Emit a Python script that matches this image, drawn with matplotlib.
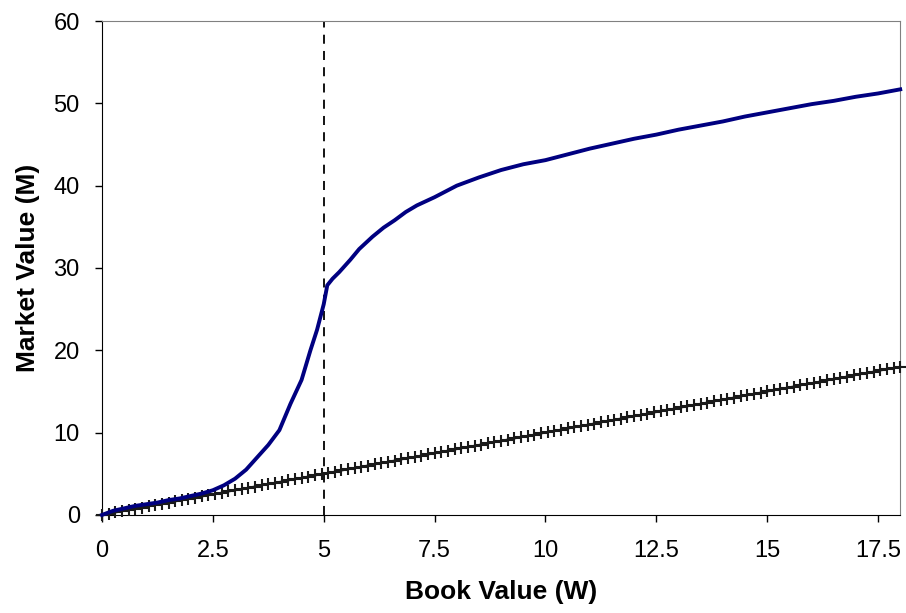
import matplotlib.pyplot as plt

# Market value curve (M) vs book value (W)
blue_x = [0, 0.25, 0.5, 0.75, 1, 1.25, 1.5, 1.75, 2, 2.25, 2.5, 2.75, 3, 3.25,
          3.5, 3.75, 4, 4.25, 4.5, 4.7, 4.85, 5.0, 5.08, 5.2, 5.35, 5.6, 5.8,
          6.1, 6.35, 6.6, 6.85, 7.1, 7.5, 8, 8.5, 9, 9.5, 10, 10.5, 11, 11.5,
          12, 12.5, 13, 13.5, 14, 14.5, 15, 15.5, 16, 16.5, 17, 17.5, 18]
blue_y = [0, 0.5, 0.8, 1.1, 1.3, 1.5, 1.8, 2.0, 2.3, 2.6, 3.0, 3.6, 4.4, 5.5,
          7.0, 8.5, 10.3, 13.5, 16.4, 20.0, 22.5, 25.6, 27.9, 28.7, 29.5, 31.0,
          32.3, 33.8, 34.9, 35.8, 36.8, 37.6, 38.6, 40.0, 41.0, 41.9, 42.6,
          43.1, 43.8, 44.5, 45.1, 45.7, 46.2, 46.8, 47.3, 47.8, 48.4, 48.9,
          49.4, 49.9, 50.3, 50.8, 51.2, 51.7]

# 45-degree line M = W, one marker every 0.15
line_x = [0.0, 0.15, 0.3, 0.45, 0.6, 0.75, 0.9, 1.05, 1.2, 1.35, 1.5, 1.65,
          1.8, 1.95, 2.1, 2.25, 2.4, 2.55, 2.7, 2.85, 3.0, 3.15, 3.3, 3.45,
          3.6, 3.75, 3.9, 4.05, 4.2, 4.35, 4.5, 4.65, 4.8, 4.95, 5.1, 5.25,
          5.4, 5.55, 5.7, 5.85, 6.0, 6.15, 6.3, 6.45, 6.6, 6.75, 6.9, 7.05,
          7.2, 7.35, 7.5, 7.65, 7.8, 7.95, 8.1, 8.25, 8.4, 8.55, 8.7, 8.85,
          9.0, 9.15, 9.3, 9.45, 9.6, 9.75, 9.9, 10.05, 10.2, 10.35, 10.5,
          10.65, 10.8, 10.95, 11.1, 11.25, 11.4, 11.55, 11.7, 11.85, 12.0,
          12.15, 12.3, 12.45, 12.6, 12.75, 12.9, 13.05, 13.2, 13.35, 13.5,
          13.65, 13.8, 13.95, 14.1, 14.25, 14.4, 14.55, 14.7, 14.85, 15.0,
          15.15, 15.3, 15.45, 15.6, 15.75, 15.9, 16.05, 16.2, 16.35, 16.5,
          16.65, 16.8, 16.95, 17.1, 17.25, 17.4, 17.55, 17.7, 17.85, 18.0]
line_y = list(line_x)

cutoff = 5
xticks = [0, 2.5, 5, 7.5, 10, 12.5, 15, 17.5]
xtick_labels = ["0", "2.5", "5", "7.5", "10", "12.5", "15", "17.5"]
yticks = [0, 10, 20, 30, 40, 50, 60]

plt.rcParams['font.family'] = ['Liberation Sans', 'DejaVu Sans']

fig = plt.figure(figsize=(9.06, 6.13), dpi=100)
ax = fig.add_axes([0.1126, 0.16, 0.881, 0.8057])

ax.plot(line_x, line_y, '-', color='#1a1a1a', lw=1.5, marker='+',
        markersize=8, markeredgewidth=1.5, clip_on=False, zorder=3)
ax.plot(blue_x, blue_y, '-', color='#000080', lw=2.8, clip_on=False, zorder=4)
ax.axvline(cutoff, color='black', lw=1.3, ls=(0, (5, 4)), zorder=2)

ax.set_xlim(0, 18)
ax.set_ylim(0, 60)
ax.set_xticks(xticks)
ax.set_xticklabels(xtick_labels)
ax.set_yticks(yticks)
ax.tick_params(direction='out', length=5, width=1, labelsize=17)
ax.tick_params(axis='x', pad=13)
ax.tick_params(axis='y', pad=11)

for side in ['top', 'right']:
    ax.spines[side].set_color('#808080')
for side in ['left', 'bottom']:
    ax.spines[side].set_color('black')

ax.set_xlabel("Book Value (W)", fontsize=19, fontweight='bold', labelpad=13)
ax.set_ylabel("Market Value (M)", fontsize=19, fontweight='bold', labelpad=10)

fig.savefig("out.png", dpi=100)
